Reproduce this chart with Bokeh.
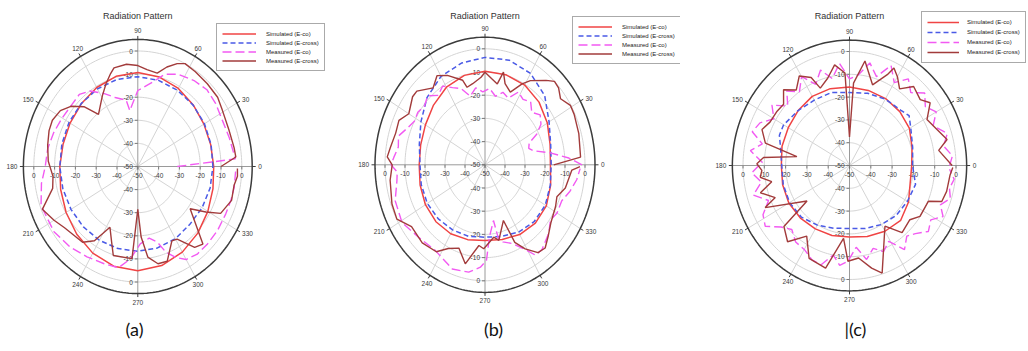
import numpy as np
from bokeh.plotting import figure
from bokeh.layouts import row
from bokeh.models import Range1d, Legend, LegendItem
from bokeh.core.properties import value
from bokeh.embed import file_html
from bokeh.resources import INLINE

FONT = "Liberation Sans"
CAPTION_FONT = "Lato"
H = 351

# radial scale shared by every pattern: centre = -50 dB, rim = +5 dB
DB_MIN, DB_MAX = -50, 5
RING_DB = [-40, -30, -20, -10, 0]
SPOKE_DEG = list(range(0, 360, 30))
RADIAL_TICKS = [0, -10, -20, -30, -40, -50]
SERIES_NAMES = ["Simulated (E-co)", "Simulated (E-cross)",
                "Measured (E-co)", "Measured (E-cross)"]
TITLE = "Radiation Pattern"
SIM_DEG = list(range(0, 360, 15))

# ---------------- (a) ----------------
a_sim_co = [-13.5, -13.7, -13.3, -12.3, -11.0, -9.9, -9.3, -9.6, -10.5, -11.6, -12.4, -12.8,
            -12.5, -11.6, -10.2, -8.5, -6.7, -5.3, -4.9, -5.6, -7.2, -9.2, -11.1, -12.6]
a_sim_cross = [-13.9, -13.5, -13.0, -12.4, -11.9, -11.4, -11.1, -11.0, -11.2, -11.5, -11.8, -12.2,
               -12.5, -12.7, -12.9, -13.0, -13.1, -13.2, -13.3, -13.5, -13.9, -14.6, -14.3, -14.0]
a_meas_co_deg = [0, 4, 16, 26, 36, 45, 54, 64, 72, 79, 90, 99, 101, 110, 117, 125, 132, 140, 150, 160,
                 170, 180, 189, 200, 215, 227, 238, 249, 258, 265, 272, 280, 286, 290, 295, 300, 307,
                 315, 324, 334, 342, 349, 358]
a_meas_co = [-31.0, -3.0, -4.3, -4.7, -3.7, -3.0, -4.0, -5.6, -8.0, -12.8, -17.1, -25.5, -20.8, -18.2,
             -14.6, -10.1, -8.0, -8.5, -8.0, -7.0, -6.0, -5.5, -3.1, -0.5, -0.8, -2.3, -3.9, -4.9,
             -5.2, -9.9, -16.5, -18.5, -15.9, -10.5, -6.5, -3.5, -2.5, -2.6, -2.7, -3.0, -2.9, -2.8, -2.9]
a_meas_cross_deg = [0, 5, 10, 20, 31, 38, 47, 56, 63, 67, 72, 77, 84, 90, 97, 105, 108, 113, 119, 130,
                    135, 141, 147, 154, 160, 168, 177, 186, 193, 202, 210, 217, 231, 237, 243, 249, 253,
                    266, 270, 273, 277, 283, 289, 297, 301, 308, 313, 324, 329, 333, 342, 350, 355, 359]
a_meas_cross = [-10.0, -2.7, -3.0, -3.4, -2.6, -1.3, -1.0, -0.5, 0.0, -1.6, -4.7, -8.5, -7.8, -6.3,
                -5.4, -5.8, -7.7, -11.0, -14.9, -20.6, -13.4, -8.6, -5.6, -4.3, -4.6, -5.7, -6.9, -9.0,
                -8.0, -0.5, -3.5, -5.9, -7.8, -11.7, -20.5, -14.9, -9.7, -10.0, -31.5, -19.4, -10.5,
                -6.8, -6.6, -13.9, -13.3, -5.6, -4.1, -18.9, -11.8, -5.3, -2.6, -3.0, -1.9, -2.1]

# ---------------- (b) ----------------
b_sim_co = [-17.3, -16.3, -14.0, -11.8, -10.3, -9.8, -9.7, -10.1, -11.4, -13.6, -15.6, -16.7,
            -17.1, -16.4, -15.6, -15.3, -15.7, -16.6, -17.4, -16.7, -15.3, -14.4, -14.6, -16.0]
b_sim_cross = [-16.9, -16.0, -13.0, -7.8, -4.5, -3.3, -3.7, -4.6, -6.0, -9.0, -13.0, -16.0,
               -17.5, -17.0, -16.7, -17.0, -17.6, -18.1, -18.8, -18.0, -16.5, -15.3, -15.2, -16.2]
b_meas_co_deg = [0, 4, 9, 14, 18, 23, 27, 32, 38, 44, 50, 56, 62, 68, 74, 80, 86, 92, 98, 104, 110,
                 116, 122, 128, 134, 140, 146, 152, 158, 164, 170, 176, 180, 184, 189, 199, 211, 223,
                 236, 250, 260, 267, 271, 274, 280, 282, 285, 292, 299, 303, 308, 317, 324, 330, 338,
                 345, 352, 358]
b_meas_co = [-1.5, -8.0, -17.0, -25.0, -27.0, -26.0, -21.0, -17.0, -15.0, -17.5, -14.5, -16.0, -14.5,
             -19.0, -17.5, -20.0, -17.0, -18.5, -16.5, -19.5, -15.0, -13.0, -10.0, -12.0, -8.7, -10.5,
             -9.5, -10.0, -8.0, -5.0, -6.0, -4.3, -3.0, -6.0, -5.4, -2.5, -1.6, -4.4, -5.5, -2.2, -3.0,
             -5.8, -8.7, -18.7, -25.6, -17.0, -15.6, -13.4, -8.2, -3.5, -3.7, -6.5, -9.5, -8.4, -8.6,
             -6.0, -3.7, -2.4]
b_meas_cross_deg = [0, 4, 16, 26, 31, 37, 42, 46, 50, 58, 62, 68, 74, 77, 80, 85, 90, 93, 100, 105,
                    107, 116, 122, 128, 137, 141, 150, 156, 163, 171, 176, 180, 188, 200, 208, 216, 227,
                    237, 243, 250, 257, 265, 269, 278, 282, 291, 294, 299, 305, 310, 316, 323, 333, 339,
                    346, 357, 359]
b_meas_cross = [-15.6, -2.1, -1.2, -0.4, -0.2, -2.7, -0.5, 0.0, -2.5, -7.2, -10.5, -16.2, -13.6, -9.0,
                -14.6, -12.7, -10.1, -12.2, -14.5, -15.4, -11.9, -7.1, -4.7, -7.9, -3.4, -3.4, -6.0,
                -2.9, -3.3, -2.1, -1.0, -3.6, -2.1, -0.5, -0.1, -4.6, -4.0, -5.3, -9.5, -11.8, -6.2,
                -15.1, -13.8, -18.5, -16.7, -24.3, -13.4, -8.6, -3.8, -3.2, -6.0, -8.7, -10.4, -11.5,
                -8.6, -6.5, -2.5]

# ---------------- (c) ----------------
c_sim_co = [-20.8, -19.6, -17.5, -16.6, -16.1, -15.9, -15.6, -15.1, -15.0, -15.9, -16.8, -17.2,
            -18.0, -17.5, -17.1, -17.4, -17.9, -18.2, -18.6, -17.8, -16.7, -16.0, -18.0, -20.5]
c_sim_cross_deg = [0, 15, 30, 38, 45, 60, 75, 90, 105, 120, 135, 150, 158, 165, 180, 195, 210, 225,
                   240, 255, 270, 285, 300, 315, 330, 345]
c_sim_cross = [-20.4, -19.3, -16.8, -14.5, -15.8, -16.4, -17.2, -18.0, -16.9, -16.9, -15.9, -14.3,
               -14.5, -16.4, -18.2, -17.8, -17.5, -18.0, -19.8, -21.5, -22.4, -21.4, -20.1, -19.0,
               -18.6, -17.9]
c_meas_co_deg = [0, 5, 11, 17, 24, 30, 36, 42, 48, 54, 60, 66, 72, 78, 84, 90, 96, 102, 108, 114, 120,
                 126, 132, 138, 144, 150, 156, 162, 167, 172, 178, 184, 190, 196, 202, 208, 214, 220,
                 226, 233, 240, 247, 253, 259, 264, 269, 275, 281, 287, 293, 299, 305, 311, 316, 322,
                 328, 333, 338, 343, 348, 353, 358]
c_meas_co = [-3.0, -1.5, -5.0, -2.0, -7.0, -3.0, -6.0, -2.5, -7.0, -3.0, -8.0, -2.0, -9.0, -4.0,
             -10.0, -12.0, -5.0, -11.0, -6.0, -11.0, -5.0, -10.0, -6.0, -11.0, -5.0, -9.0, -4.0, -2.0,
             -8.0, -3.0, -9.0, -4.0, -8.0, -3.0, -9.0, -4.0, -2.3, -8.0, -11.0, -8.0, -7.5, -5.0, -4.5,
             -10.0, -6.0, -8.0, -14.0, -8.0, -12.0, -9.0, -12.0, -5.0, -9.0, -7.0, -3.0, -5.0, -0.7,
             -4.0, -0.5, -2.0, -0.5, -3.0]
c_meas_cross_deg = [0, 9, 14, 21, 29, 36, 41, 49, 55, 60, 64, 66, 73, 81, 87, 90, 93, 99, 105, 112,
                    115, 121, 127, 133, 139, 145, 153, 159, 166, 171, 175, 179, 183, 187, 191, 196, 202,
                    205, 218, 221, 229, 237, 245, 256, 265, 269, 276, 283, 288, 302, 310, 320, 326, 337,
                    340, 346, 355, 359]
c_meas_cross = [-1.8, -7.6, -2.8, -6.0, -8.4, -3.2, -6.0, -4.1, -9.0, -5.0, -2.4, -6.4, -13.0, -3.6,
                -13.8, -37.5, -9.4, -5.3, -10.4, -13.4, -7.4, -4.2, -8.5, -4.6, -9.0, -8.5, -8.1, -6.0,
                -9.3, -25.0, -9.5, -6.5, -8.8, -7.8, -12.8, -6.5, -12.4, -6.3, -24.7, -9.2, -5.7, -13.1,
                -5.1, -3.6, -17.9, -8.0, -9.2, -3.8, -0.4, -18.6, -11.6, -13.0, -10.1, -9.8, -3.9,
                -3.0, -2.6, -1.5]

STYLES = [
    dict(line_color="#f04444", line_width=1.5),
    dict(line_color="#4a5ae6", line_width=1.5, line_dash="5 3"),
    dict(line_color="#f25af2", line_width=1.4, line_dash="9 4"),
    dict(line_color="#a23b3b", line_width=1.4),
]


def polar_xy(deg, db):
    t = np.radians(np.asarray(deg, dtype=float))
    r = np.clip(np.asarray(db, dtype=float) - DB_MIN, 0, None)
    return r * np.cos(t), r * np.sin(t)


def closed(deg, db):
    return list(deg) + [360], list(db) + [db[0]]


def label(p, x, y, txt, size, align, baseline, color="#3a3a3a", font=FONT):
    p.text(x=[x], y=[y], text=[txt], text_font=value(font), text_font_size=size,
           text_align=align, text_baseline=baseline, text_color=color)


def panel(width, cx, cy, sx, sy, curves, legend_box, legend_font, glyph_w, caption, cap_x, cap_align):
    p = figure(width=width, height=H,
               x_range=Range1d(-cx / sx, (width - cx) / sx),
               y_range=Range1d(-(H - cy) / sy, cy / sy),
               output_backend="svg", toolbar_location=None,
               x_axis_type=None, y_axis_type=None, min_border=0,
               outline_line_color=None, background_fill_color="white",
               border_fill_color="white")
    rim = DB_MAX - DB_MIN
    circ = np.radians(np.arange(0, 361, 1.5))

    # concentric dB rings
    p.multi_line([list((d - DB_MIN) * np.cos(circ)) for d in RING_DB],
                 [list((d - DB_MIN) * np.sin(circ)) for d in RING_DB],
                 line_color="#d4d4d4", line_width=1)
    # angular spokes
    diag = [a for a in SPOKE_DEG if a % 90]
    p.multi_line([[0, rim * np.cos(np.radians(a))] for a in diag],
                 [[0, rim * np.sin(np.radians(a))] for a in diag],
                 line_color="#d4d4d4", line_width=1)
    # main axes through the centre
    p.multi_line([[-rim, rim], [0, 0]], [[0, 0], [-rim, rim]],
                 line_color="#9a9a9a", line_width=1)
    # rim and outward angle ticks
    p.line(list(rim * np.cos(circ)), list(rim * np.sin(circ)), line_color="#3c3c3c", line_width=1.5)
    p.multi_line([[rim * np.cos(np.radians(a)), rim * np.cos(np.radians(a)) + 3.5 * np.cos(np.radians(a)) / sx]
                  for a in SPOKE_DEG],
                 [[rim * np.sin(np.radians(a)), rim * np.sin(np.radians(a)) + 3.5 * np.sin(np.radians(a)) / sy]
                  for a in SPOKE_DEG],
                 line_color="#3c3c3c", line_width=1)

    # radial tick marks on both axes
    rs = [d - DB_MIN for d in RADIAL_TICKS]
    vt_x, vt_y, ht_x, ht_y = [], [], [], []
    for r in rs:
        for sgn in (1, -1):
            vt_x.append([-3 / sx, 0]); vt_y.append([sgn * r, sgn * r])
            ht_x.append([sgn * r, sgn * r]); ht_y.append([0, -3 / sy])
    p.multi_line(vt_x, vt_y, line_color="#7a7a7a", line_width=1)
    p.multi_line(ht_x, ht_y, line_color="#7a7a7a", line_width=1)

    # radial tick labels
    for d, r in zip(RADIAL_TICKS, rs):
        txt = str(d)
        for sgn in ((1, -1) if r else (1,)):
            label(p, -5 / sx, sgn * r, txt, "6.5px", "right", "middle")
            label(p, sgn * r, -9 / sy, txt, "6.5px", "center", "middle")

    # angle labels round the rim
    for a in SPOKE_DEG:
        c, s = np.cos(np.radians(a)), np.sin(np.radians(a))
        align = "left" if c > 0.6 else ("right" if c < -0.6 else "center")
        base = "bottom" if s > 0.6 else ("top" if s < -0.6 else "middle")
        label(p, rim * c + 6 * c / sx, rim * s + 6 * s / sy, str(a), "6.5px", align, base)

    # the four patterns
    rends = []
    for (deg, db), st in zip(curves, STYLES):
        x, y = polar_xy(deg, db)
        rends.append(p.line(list(x), list(y), **st))

    # title and caption
    label(p, 0, (cy - 15.5) / sy, TITLE, "9px", "center", "middle", color="#333333")
    label(p, (cap_x - cx) / sx, (cy - 328) / sy, caption, "18px", cap_align, "middle",
          color="#111111", font=CAPTION_FONT)

    left, top, pad, row_h, standoff = legend_box
    leg = Legend(items=[LegendItem(label=n, renderers=[r]) for n, r in zip(SERIES_NAMES, rends)],
                 location=(left, H - top - (4 * row_h + 2 * pad)),
                 orientation="vertical", padding=pad, margin=0, spacing=0,
                 glyph_width=glyph_w, glyph_height=row_h, label_height=row_h,
                 label_standoff=standoff, label_text_font=FONT, label_text_font_size=legend_font,
                 label_text_color="#222222", label_text_baseline="middle",
                 border_line_color="#555555", border_line_width=1.2,
                 background_fill_color="white", background_fill_alpha=1.0)
    p.add_layout(leg)
    return p


pa = panel(340, 137.3, 166.0, 2.08, 2.31,
           [closed(SIM_DEG, a_sim_co), closed(SIM_DEG, a_sim_cross),
            (a_meas_co_deg, a_meas_co), (a_meas_cross_deg, a_meas_cross)],
           (216, 25, 5, 9, 10), "6px", 34, "(a)", 134, "center")
pb = panel(340, 144.5, 164.3, 2.0, 2.32,
           [closed(SIM_DEG, b_sim_co), closed(SIM_DEG, b_sim_cross),
            (b_meas_co_deg, b_meas_co), (b_meas_cross_deg, b_meas_cross)],
           (232, 18, 5, 9, 10), "6px", 34, "(b)", 153, "center")
pc = panel(348, 169.0, 165.0, 2.13, 2.28,
           [closed(SIM_DEG, c_sim_co), closed(c_sim_cross_deg, c_sim_cross),
            (c_meas_co_deg, c_meas_co), (c_meas_cross_deg, c_meas_cross)],
           (241, 13, 5, 10, 8), "6px", 32, "|(c)", 164, "left")

layout = row(pa, pb, pc, spacing=0)
open("out.html", "w").write(file_html(layout, INLINE))
